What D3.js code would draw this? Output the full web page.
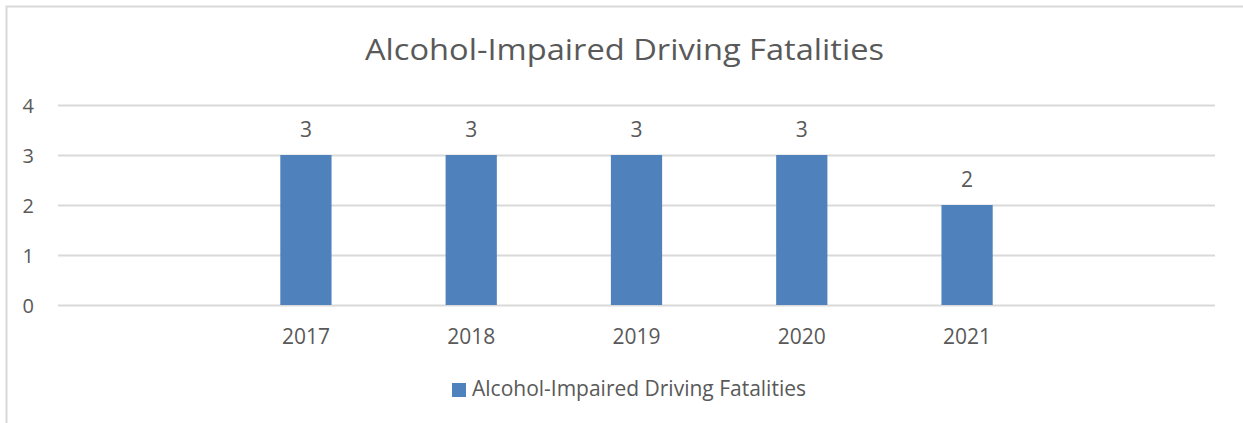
<!DOCTYPE html>
<html>
<head>
<meta charset="utf-8">
<script src="https://cdn.jsdelivr.net/npm/d3@7"></script>
<style>
  body { margin: 0; background: #fff; }
  text { font-family: "Open Sans", "Liberation Sans", sans-serif; fill: #595959; }
</style>
</head>
<body>
<div id="chart"></div>
<script>
// Chart data (first and last slots are empty in the source chart)
const categories = ["", "2017", "2018", "2019", "2020", "2021", ""];
const values = [null, 3, 3, 3, 3, 2, null];
const yTicks = [0, 1, 2, 3, 4];
const title = "Alcohol-Impaired Driving Fatalities";
const seriesName = "Alcohol-Impaired Driving Fatalities";

const width = 1243;
const height = 423;
const margin = { top: 105, right: 28, bottom: 118, left: 58 };

const svg = d3.select("#chart")
    .append("svg")
    .attr("width", width)
    .attr("height", height);

// Outer chart border (cropped on right and bottom)
svg.append("rect")
    .attr("x", 6.5)
    .attr("y", 6.5)
    .attr("width", width)
    .attr("height", height)
    .attr("fill", "none")
    .attr("stroke", "#d9d9d9")
    .attr("stroke-width", 2);

const slots = d3.range(categories.length);

const x = d3.scaleBand()
    .domain(slots)
    .range([margin.left, width - margin.right])
    .padding(0);

const y = d3.scaleLinear()
    .domain([0, 4])
    .range([height - margin.bottom, margin.top]);

// Gridlines
svg.append("g")
    .selectAll("line")
    .data(yTicks)
    .enter()
    .append("line")
    .attr("x1", margin.left)
    .attr("x2", width - margin.right)
    .attr("y1", d => Math.round(y(d)) + 0.5)
    .attr("y2", d => Math.round(y(d)) + 0.5)
    .attr("stroke", "#d9d9d9")
    .attr("stroke-width", 2);

// Y axis labels
const yAxis = svg.append("g")
    .attr("transform", "translate(34,0)")
    .call(d3.axisLeft(y).tickValues(yTicks).tickFormat(d3.format("d")).tickSize(0).tickPadding(0));
yAxis.select(".domain").remove();
yAxis.selectAll("text")
    .style("font-size", "20px")
    .attr("fill", "#595959")
    .attr("dy", "0.357em");

// X axis labels
const xAxis = svg.append("g")
    .attr("transform", `translate(0,${y(0)})`)
    .call(d3.axisBottom(x).tickFormat(i => categories[i]).tickSize(0).tickPadding(0));
xAxis.select(".domain").remove();
xAxis.selectAll("text")
    .style("font-size", "21px")
    .attr("fill", "#595959")
    .attr("y", 38.5)
    .attr("dy", 0);

// Bars
const barW = x.bandwidth() * 0.31;
const barData = slots.filter(i => values[i] != null);

svg.append("g")
    .selectAll("rect")
    .data(barData)
    .enter()
    .append("rect")
    .attr("x", i => x(i) + (x.bandwidth() - barW) / 2)
    .attr("y", i => y(values[i]))
    .attr("width", barW)
    .attr("height", i => y(0) - y(values[i]))
    .attr("fill", "#4f81bd");

// Data labels
svg.append("g")
    .selectAll("text")
    .data(barData)
    .enter()
    .append("text")
    .attr("x", i => x(i) + x.bandwidth() / 2)
    .attr("y", i => y(values[i]) - 18.5)
    .attr("text-anchor", "middle")
    .style("font-size", "21px")
    .attr("fill", "#404040")
    .text(i => values[i]);

// Title
svg.append("text")
    .attr("x", 624.5)
    .attr("y", 60)
    .attr("text-anchor", "middle")
    .style("font-size", "30px")
    .attr("textLength", 519)
    .attr("lengthAdjust", "spacingAndGlyphs")
    .text(title);

// Legend
svg.append("rect")
    .attr("x", 452)
    .attr("y", 383)
    .attr("width", 14)
    .attr("height", 14)
    .attr("fill", "#4f81bd");

svg.append("text")
    .attr("x", 472)
    .attr("y", 396)
    .style("font-size", "21px")
    .attr("textLength", 334)
    .attr("lengthAdjust", "spacingAndGlyphs")
    .text(seriesName);
</script>
</body>
</html>
